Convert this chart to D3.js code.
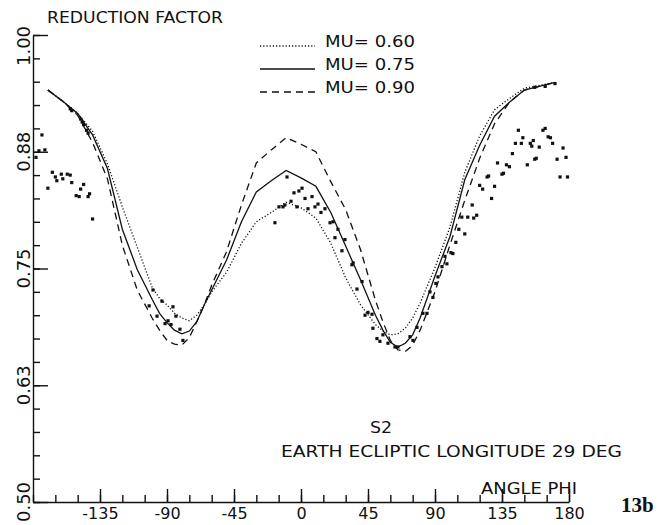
<!DOCTYPE html>
<html>
<head>
<meta charset="utf-8">
<script src="https://cdn.jsdelivr.net/npm/d3@7"></script>
<style>
  body { margin: 0; background: #fff; }
  svg { display: block; }
  text { font-family: "DejaVu Sans", sans-serif; fill: #111; }
</style>
</head>
<body>
<div id="chart"></div>
<script>
// 1: DATA
// angle phi (deg) for the model curves (finer near the two minima)
const phiModel = [-170, -160, -150, -140, -130, -120, -110, -100, -95, -90, -85, -80, -75, -70, -65, -60, -50, -40, -30, -20, -10,
                  0, 10, 20, 30, 40, 50, 55, 60, 65, 70, 75, 80, 90, 100, 110, 120, 130, 140, 150, 160, 170];
const mu060 = [0.941, 0.929, 0.916, 0.897, 0.862, 0.816, 0.773, 0.730, 0.718, 0.711, 0.702, 0.697, 0.694, 0.700, 0.711, 0.725, 0.746, 0.777, 0.800, 0.810, 0.821,
               0.815, 0.804, 0.777, 0.740, 0.711, 0.690, 0.683, 0.679, 0.680, 0.686, 0.697, 0.713, 0.751, 0.794, 0.853, 0.892, 0.920, 0.932, 0.943, 0.946, 0.949];
const mu075 = [0.941, 0.929, 0.916, 0.893, 0.857, 0.792, 0.749, 0.717, 0.702, 0.692, 0.684, 0.680, 0.683, 0.693, 0.711, 0.727, 0.759, 0.800, 0.832, 0.844, 0.855,
               0.847, 0.838, 0.810, 0.774, 0.738, 0.700, 0.684, 0.671, 0.666, 0.670, 0.679, 0.697, 0.742, 0.784, 0.845, 0.882, 0.913, 0.928, 0.941, 0.945, 0.949];
const mu090 = [0.941, 0.929, 0.914, 0.885, 0.846, 0.775, 0.727, 0.697, 0.684, 0.673, 0.669, 0.668, 0.676, 0.693, 0.711, 0.732, 0.768, 0.818, 0.863, 0.877, 0.890,
               0.883, 0.875, 0.843, 0.813, 0.770, 0.716, 0.693, 0.673, 0.663, 0.661, 0.668, 0.684, 0.725, 0.775, 0.823, 0.868, 0.905, 0.928, 0.941, 0.945, 0.949];

const seriesNames = ["MU= 0.60", "MU= 0.75", "MU= 0.90"];

// measured points [phi, reduction factor]
const obsPhi = [-174, -176, -172, -178, -167, -165, -164, -161, -160, -157, -155, -154, -170, -151, -149, -148, -146, -143, -142, -140,
                -155, -154, -148, -147, -146, -144, -143,
                -99.4, -102, -93.4, -96.7, -86, -84, -91.3, -89.3, -87.3, -81.3, -79.3,
                -9.4, -17.5, -14.8, -12.1, -10.8, -6.7, -4.7, -1.4, 0.7, -2.7, 2.7, 7.4, 4.7, 9.4, 11.4, 13.4, 16.1, 19.5, 21.5, 22.8, 24.8,
                29.5, 27.5, 34.2, 35, 41, 37.6, 43, 45, 47.7, 48.3, 51, 53, 55, 58.4, 63.1, 65.1, 73.2, 75.2, 77.9, 81.9, 84.6,
                86.6, 88.6, 90.6, 92, 94.7, 96.7, 98, 100.7, 102, 104, 106, 110, 108, 112, 116, 118, 115, 120, 122, 125, 126, 128, 130, 135, 136,
                132, 138, 140, 142, 144, 146, 149, 148, 154, 155, 157, 156, 160, 152, 158, 162.5, 164, 166, 167.5, 169, 172, 176, 178, 174, 179,
                157, 164, 170.6];
const obsVal = [0.893, 0.876, 0.877, 0.869, 0.853, 0.848, 0.844, 0.851, 0.846, 0.851, 0.850, 0.842, 0.836, 0.828, 0.827, 0.835, 0.840, 0.827, 0.830, 0.803,
                0.921, 0.919, 0.910, 0.907, 0.904, 0.898, 0.895,
                0.727, 0.710, 0.715, 0.699, 0.709, 0.699, 0.691, 0.694, 0.690, 0.685, 0.673,
                0.848, 0.799, 0.816, 0.816, 0.818, 0.822, 0.831, 0.833, 0.836, 0.816, 0.825, 0.827, 0.814, 0.816, 0.819, 0.810, 0.814, 0.799, 0.800, 0.783, 0.792,
                0.781, 0.769, 0.754, 0.756, 0.736, 0.728, 0.700, 0.703, 0.701, 0.686, 0.675, 0.672, 0.679, 0.670, 0.666, 0.666, 0.677, 0.673, 0.687, 0.702, 0.702,
                0.725, 0.719, 0.734, 0.741, 0.752, 0.763, 0.755, 0.767, 0.766, 0.778, 0.792, 0.787, 0.805, 0.805, 0.804, 0.807, 0.818, 0.839, 0.835, 0.848, 0.849, 0.825, 0.838, 0.851, 0.852,
                0.863, 0.861, 0.859, 0.873, 0.884, 0.898, 0.890, 0.884, 0.884, 0.881, 0.867, 0.887, 0.880, 0.861, 0.868, 0.898, 0.900, 0.891, 0.890, 0.884, 0.867, 0.879, 0.869, 0.848, 0.848,
                0.944, 0.945, 0.948];

const xMajor = [-135, -90, -45, 0, 45, 90, 135, 180];
const xMinor = d3.range(-180, 181, 15);
const yMajor = [0.5, 0.625, 0.75, 0.875, 1.0];
const yLabels = ["0.50", "0.63", "0.75", "0.88", "1.00"];
const yMinor = d3.range(0.5, 1.0001, 0.025);

// 2: SVG + SCALES
const W = 667, H = 525;
const svg = d3.select("#chart").append("svg")
    .attr("width", W)
    .attr("height", H);

const x = d3.scaleLinear().domain([-180, 180]).range([33, 569]);
const y = d3.scaleLinear().domain([0.5, 1.0]).range([502, 35]);

// 3: AXES (ticks point inward, like the plotter output)
const ax = svg.append("g").attr("transform", `translate(0,${y(0.5)})`);
ax.call(d3.axisBottom(x).tickValues(xMinor).tickSize(-7).tickSizeOuter(0).tickFormat(""));
ax.append("g").call(d3.axisBottom(x).tickValues(xMajor).tickSize(-13).tickSizeOuter(0).tickPadding(6).tickFormat(d => String(d)))
    .call(g => g.select(".domain").remove());
ax.selectAll("text")
    .style("font-size", "16px")
    .style("font-family", "DejaVu Sans, sans-serif")
    .attr("fill", "#111");

const ay = svg.append("g").attr("transform", `translate(${x(-180)},0)`);
ay.call(d3.axisLeft(y).tickValues(yMinor).tickSize(-7).tickSizeOuter(0).tickFormat(""));
ay.append("g").call(d3.axisLeft(y).tickValues(yMajor).tickSize(-15).tickSizeOuter(0).tickFormat(""))
    .call(g => g.select(".domain").remove());
svg.selectAll(".domain, .tick line").attr("stroke", "#111").attr("stroke-width", 1.4);

// rotated y labels (top one sits a bit lower, as in the original)
svg.selectAll(".ylab")
    .data(yMajor)
    .enter()
    .append("text")
    .attr("class", "ylab")
    .attr("transform", d => `translate(30,${Math.max(y(d), 46)}) rotate(-90)`)
    .attr("text-anchor", "middle")
    .style("font-size", "18px")
    .text((d, i) => yLabels[i]);

// 4: CURVES
const line = d3.line()
    .x(d => x(d[0]))
    .y(d => y(d[1]));

const curves = [mu060, mu075, mu090];
const dashes = ["1.2,2", null, "7,5"];

svg.selectAll(".model")
    .data(curves)
    .enter()
    .append("path")
    .attr("class", "model")
    .attr("d", vals => line(phiModel.map((p, i) => [p, vals[i]])))
    .attr("fill", "none")
    .attr("stroke", "#111")
    .attr("stroke-width", 1.3)
    .attr("stroke-dasharray", (d, i) => dashes[i]);

// 5: MEASURED POINTS
svg.selectAll(".obs")
    .data(obsPhi.map((p, i) => [p, obsVal[i]]))
    .enter()
    .append("rect")
    .attr("class", "obs")
    .attr("x", d => x(d[0]) - 1.6)
    .attr("y", d => y(d[1]) - 1.6)
    .attr("width", 3.2)
    .attr("height", 3.2)
    .attr("fill", "#111");

// 6: LEGEND
const legend = svg.selectAll(".legend")
    .data(seriesNames)
    .enter()
    .append("g")
    .attr("class", "legend")
    .attr("transform", (d, i) => `translate(0,${47 + i * 23})`);
legend.append("line")
    .attr("x1", 260).attr("x2", 315)
    .attr("y1", -1).attr("y2", -1)
    .attr("stroke", "#111")
    .attr("stroke-width", 1.3)
    .attr("stroke-dasharray", (d, i) => dashes[i]);
legend.append("text")
    .attr("x", 325)
    .style("font-size", "16px")
    .attr("textLength", 90)
    .attr("lengthAdjust", "spacingAndGlyphs")
    .text(d => d);

// 7: LABELS
svg.append("text")
    .attr("x", 47).attr("y", 23)
    .style("font-size", "15px")
    .attr("textLength", 176)
    .attr("lengthAdjust", "spacingAndGlyphs")
    .text("REDUCTION FACTOR");

svg.append("text")
    .attr("x", 370).attr("y", 433)
    .style("font-size", "15px")
    .attr("textLength", 22)
    .attr("lengthAdjust", "spacingAndGlyphs")
    .text("S2");

svg.append("text")
    .attr("x", 281).attr("y", 457)
    .style("font-size", "15px")
    .attr("textLength", 341)
    .attr("lengthAdjust", "spacingAndGlyphs")
    .text("EARTH ECLIPTIC LONGITUDE 29 DEG");

svg.append("text")
    .attr("x", 481).attr("y", 494)
    .style("font-size", "15px")
    .attr("textLength", 96)
    .attr("lengthAdjust", "spacingAndGlyphs")
    .text("ANGLE PHI");

svg.append("text")
    .attr("x", 621).attr("y", 512)
    .style("font-family", "Liberation Serif, serif")
    .style("font-weight", "bold")
    .style("font-size", "21px")
    .text("13b");
</script>
</body>
</html>
